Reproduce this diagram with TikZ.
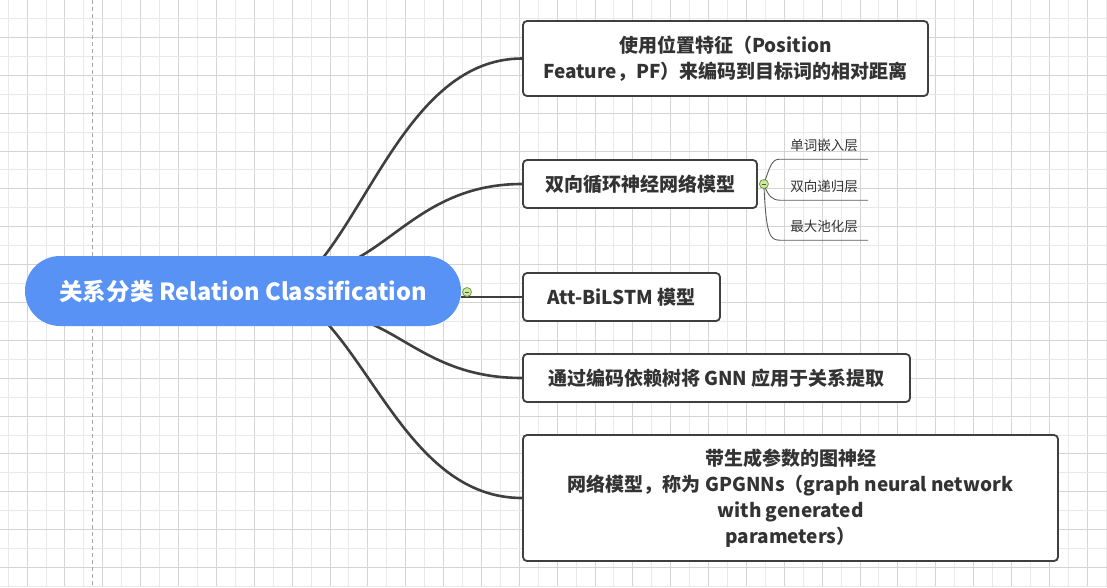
\documentclass[tikz,border=0pt]{standalone}
\usepackage{fontspec}
\setmainfont{Noto Sans CJK SC}
\usetikzlibrary{calc}
\definecolor{gridlight}{HTML}{E9E9E9}
\definecolor{griddark}{HTML}{D4D4D4}
\definecolor{rootblue}{HTML}{5892F5}
\definecolor{ink}{HTML}{333333}
\definecolor{linkgray}{HTML}{3F3F3F}
\definecolor{knobfill}{HTML}{CFE6A8}
\definecolor{knobring}{HTML}{6E9F3A}
\pgfdeclarelayer{grid}
\pgfdeclarelayer{links}
\pgfsetlayers{grid,links,main}
\tikzset{
  rootnode/.style={rectangle, rounded corners=35pt, fill=rootblue, text=white,
    minimum width=436pt, minimum height=70pt, inner sep=0pt,
    font=\fontsize{23.6}{28}\selectfont\bfseries},
  topicbox/.style={rectangle, rounded corners=4pt, draw=linkgray, line width=1.8pt,
    fill=white, text=ink, inner sep=0pt, align=center,
    font=\fontsize{19}{26}\selectfont\bfseries},
  subtopic/.style={rectangle, inner sep=0pt, minimum width=88pt, minimum height=28pt,
    text=ink, font=\fontsize{13.5}{16}\selectfont},
  branch/.style={draw=linkgray, line width=2.6pt},
  twig/.style={draw=linkgray!85, line width=0.9pt},
  knob/.style={circle, draw=knobring, fill=knobfill, line width=0.8pt,
    minimum size=9pt, inner sep=0pt,
    path picture={\draw[knobring!60!black, line width=0.8pt]
      ([xshift=-2.4pt]path picture bounding box.center) --
      ([xshift=2.4pt]path picture bounding box.center);}},
}
\begin{document}
\begin{tikzpicture}[x=1pt,y=-1pt]
\useasboundingbox (0,0) rectangle (1107,587);

% canvas grid
\begin{pgfonlayer}{grid}
  \fill[white] (0,0) rectangle (1107,587);
  \foreach \k in {0,...,58}{
    \pgfmathsetmacro{\gx}{8.1+18.93*\k}
    \pgfmathtruncatemacro{\odd}{mod(\k,2)}
    \ifnum\odd=1
      \draw[griddark, line width=0.8pt] (\gx,0) -- (\gx,587);
    \else
      \draw[gridlight, line width=0.8pt] (\gx,0) -- (\gx,587);
    \fi
  }
  \foreach \k in {0,...,31}{
    \pgfmathsetmacro{\gy}{18.93*\k-0.5}
    \pgfmathtruncatemacro{\odd}{mod(\k,2)}
    \ifnum\odd=0
      \draw[griddark, line width=0.8pt] (0,\gy) -- (1107,\gy);
    \else
      \draw[gridlight, line width=0.8pt] (0,\gy) -- (1107,\gy);
    \fi
  }
  \draw[gray!70, line width=0.8pt, dash pattern=on 4pt off 3pt] (92.3,0) -- (92.3,587);
\end{pgfonlayer}

% central topic
\node[rootnode] (root) at (243,291) {关系分类 Relation Classification};

% main topics
\node[topicbox, minimum width=405pt, minimum height=75pt] (b1) at (725.5,58.5)
  {使用位置特征（Position\\Feature，PF）来编码到目标词的相对距离};
\node[topicbox, minimum width=234pt, minimum height=48pt] (b2) at (640,184)
  {双向循环神经网络模型};
\node[topicbox, minimum width=197pt, minimum height=48pt] (b3) at (621.5,297)
  {Att-BiLSTM 模型};
\node[topicbox, minimum width=387pt, minimum height=48pt] (b4) at (716.5,378)
  {通过编码依赖树将 GNN 应用于关系提取};
\node[topicbox, minimum width=535pt, minimum height=126pt] (b5) at (790.5,498)
  {带生成参数的图神经\\网络模型，称为 GPGNNs（graph neural network\\with generated\\parameters）};

% subtopics of the recurrent model
\node[subtopic] (s1) at (824,145) {单词嵌入层};
\node[subtopic] (s2) at (824,186) {双向递归层};
\node[subtopic] (s3) at (824,226) {最大池化层};

% branches
\begin{pgfonlayer}{links}
  \draw[branch] ($(root.north)+(80,2)$) .. controls +(55,-71) and +(-100,0) .. (b1.west);
  \draw[branch] ($(root.north)+(115,2)$) .. controls +(46,-26) and +(-82,0) .. (b2.west);
  \draw[branch] (root.east |- b3.west) -- (b3.west);
  \draw[branch] ($(root.south)+(129,-2)$) .. controls +(42,19) and +(-75,0) .. (b4.west);
  \draw[branch] ($(root.south)+(85,-2)$) .. controls +(55,62) and +(-97,0) .. (b5.west);

  \coordinate (k2) at ($(b2.east)+(6,0)$);
  \draw[twig] (k2) .. controls (770,166) and (772,159) .. (s1.south west) -- (s1.south east);
  \draw[twig] (k2) .. controls (768,196) and (772,200) .. (s2.south west) -- (s2.south east);
  \draw[twig] (k2) .. controls (766,236) and (770,240) .. (s3.south west) -- (s3.south east);
\end{pgfonlayer}

% collapse knobs
\node[knob] (kr) at (467,292) {};
\node[knob] (kb) at (k2) {};
\end{tikzpicture}
\end{document}
